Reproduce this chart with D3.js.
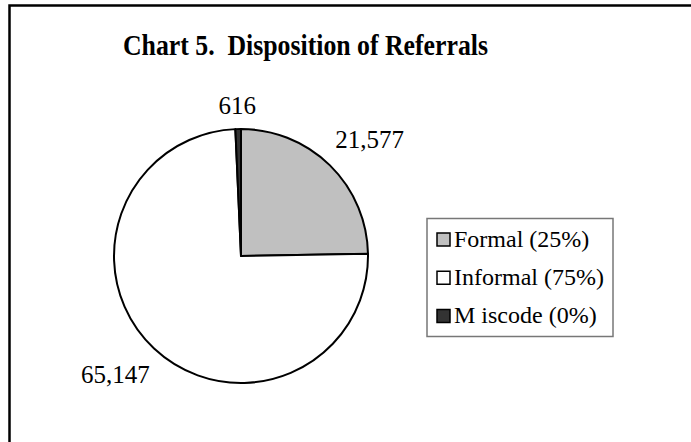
<!DOCTYPE html>
<html>
<head>
<meta charset="utf-8">
<script src="https://cdn.jsdelivr.net/npm/d3@7"></script>
<style>
  html, body { margin: 0; padding: 0; background: #fff; }
  svg { display: block; }
</style>
</head>
<body>
<svg id="chart" width="691" height="442"></svg>
<script>
const title = "Chart 5.  Disposition of Referrals";
const categories = ["Formal", "Informal", "Miscode"];
const values = [21577, 65147, 616];
const valueLabels = ["21,577", "65,147", "616"];
const legendLabels = ["Formal (25%)", "Informal (75%)", "M iscode (0%)"];
const colors = ["#c0c0c0", "#ffffff", "#333333"];

const svg = d3.select("#chart");
const W = 691, H = 442;
const serif = "'Liberation Serif', 'Times New Roman', serif";

// outer frame (only top & left visible)
svg.append("rect")
  .attr("x", 9.5).attr("y", 5.5)
  .attr("width", W + 20).attr("height", H + 20)
  .attr("fill", "#fff").attr("stroke", "#000").attr("stroke-width", 2.5);

// title
svg.append("text")
  .attr("x", 123).attr("y", 55)
  .attr("font-family", serif).attr("font-weight", "bold")
  .attr("font-size", 30)
  .attr("textLength", 365).attr("lengthAdjust", "spacingAndGlyphs")
  .attr("fill", "#000")
  .style("white-space", "pre")
  .text(title);

// pie
const cx = 241, cy = 256, r = 127;
const data = categories.map((c, i) => ({ cat: c, value: values[i], label: valueLabels[i], color: colors[i] }));
const pie = d3.pie().value(d => d.value).sort(null).startAngle(0).endAngle(2 * Math.PI);
const arcs = pie(data);
const arc = d3.arc().innerRadius(0).outerRadius(r);

const g = svg.append("g").attr("transform", `translate(${cx},${cy})`);
g.selectAll("path.slice").data(arcs).enter().append("path")
  .attr("class", "slice")
  .attr("d", arc)
  .attr("fill", d => d.data.color)
  .attr("stroke", "#000").attr("stroke-width", 2)
  .attr("stroke-linejoin", "round");

// data labels (outside end)
const gap = 15;
arcs.forEach(a => {
  const mid0 = (a.startAngle + a.endAngle) / 2;
  const mid = mid0 + 0.12 * Math.sin(mid0) * Math.cos(mid0);
  const s = Math.sin(mid), c = Math.cos(mid);
  const t = g.append("text")
    .attr("font-family", serif).attr("font-size", 25)
    .attr("fill", "#000")
    .attr("text-anchor", "middle")
    .text(a.data.label);
  const bb = t.node().getBBox();
  const hw = bb.width / 2, hh = 8.5;
  const R = r + hw * Math.abs(s) + hh * Math.abs(c) + gap;
  const x = R * s, y = -R * c;
  t.attr("x", x).attr("y", y + hh);
});

// legend
const lg = svg.append("g");
lg.append("rect")
  .attr("x", 427).attr("y", 218.5)
  .attr("width", 186).attr("height", 118)
  .attr("fill", "#fff").attr("stroke", "#777").attr("stroke-width", 1.5);

const legendY = d3.scaleLinear().domain([0, 2]).range([246.5, 323]);
legendLabels.forEach((lab, i) => {
  const by = legendY(i);
  lg.append("rect")
    .attr("x", 437).attr("y", by - 13.5)
    .attr("width", 13).attr("height", 13)
    .attr("fill", colors[i]).attr("stroke", "#000").attr("stroke-width", 1.5);
  lg.append("text")
    .attr("x", 454).attr("y", by)
    .attr("font-family", serif).attr("font-size", 24)
    .attr("fill", "#000")
    .style("white-space", "pre")
    .text(lab);
});
</script>
</body>
</html>
